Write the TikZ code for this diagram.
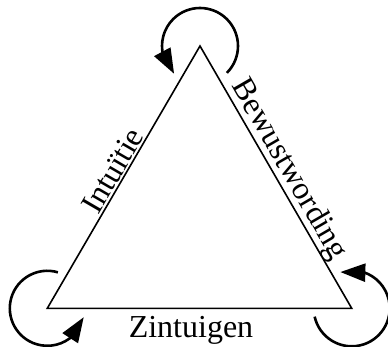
\documentclass[tikz,border=0pt]{standalone}
\usepackage{fontspec}
\setmainfont{Liberation Serif}
\usetikzlibrary{arrows.meta,bending,calc}
\tikzset{
  tri/.style={line width=1.6pt, line join=miter},
  selfloop/.style={line width=2.6pt, -{Triangle[length=25pt,width=18pt,flex]}},
  lbl/.style={font=\fontsize{32}{38}\selectfont, inner sep=0pt}
}
\begin{document}
\begin{tikzpicture}[x=1pt,y=1pt]
\useasboundingbox (0,0) rectangle (388,-347);
\coordinate (A) at (200,-46);
\coordinate (B) at (47.3,-308.3);
\coordinate (C) at (351.7,-308.3);
\draw[tri] (A) -- (B) -- (C) -- cycle;
\draw[selfloop] ([shift={(-45:38)}]A) arc[start angle=-45,end angle=227,radius=38];
\draw[selfloop] ([shift={(73.6:37.5)}]B) arc[start angle=73.6,end angle=346.3,radius=37.5];
\draw[selfloop] ([shift={(192.7:38)}]C) arc[start angle=192.7,end angle=467.4,radius=38];
\node[lbl, rotate=59.8, anchor=south, inner sep=2pt] (intu) at ($(A)!0.5!(B)$) {Intuïtie};
\node[lbl, rotate=-59.9, anchor=south] (bew) at ($(A)!0.5!(C)$) {Bewustwording};
\node[lbl, anchor=base] (zin) at (191,-337.3) {Zintuigen};
\end{tikzpicture}
\end{document}
